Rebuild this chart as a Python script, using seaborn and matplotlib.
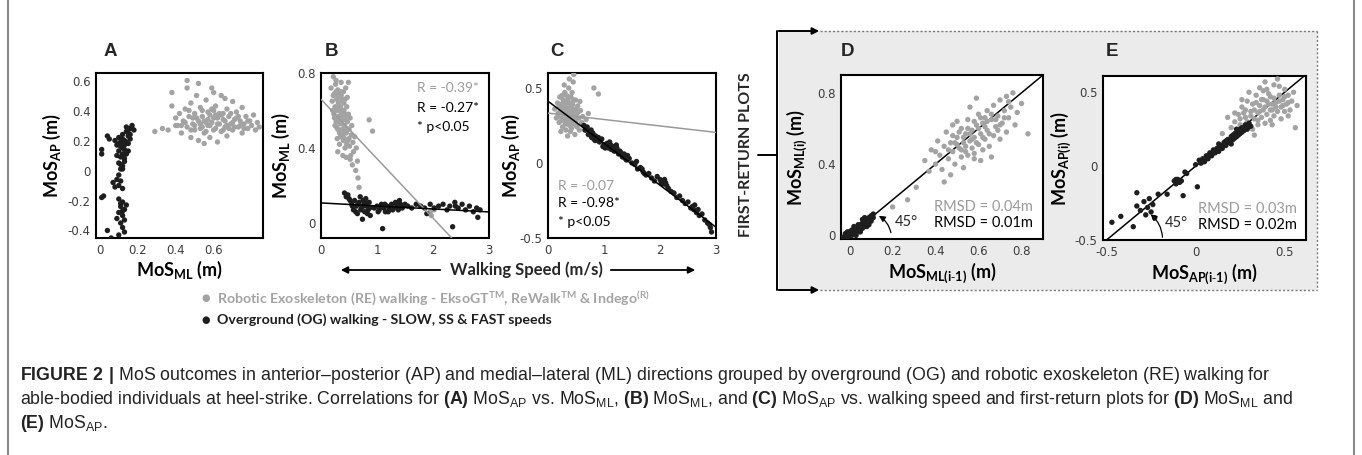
import numpy as np
import pandas as pd
import matplotlib
matplotlib.use('Agg')
import matplotlib.pyplot as plt
import seaborn as sns
from matplotlib import font_manager
from matplotlib.patches import Rectangle, FancyArrowPatch
from matplotlib.lines import Line2D

# ---------------- data ----------------
# A: MoS_ML (x) vs MoS_AP (y)
a_re_x = [0.29, 0.33, 0.36, 0.38, 0.38, 0.40, 0.41, 0.42, 0.43, 0.44, 0.45, 0.46, 0.46, 0.46, 0.47, 0.48, 0.48, 0.49, 0.50, 0.50,
          0.51, 0.52, 0.52, 0.53, 0.54, 0.54, 0.55, 0.56, 0.56, 0.57, 0.58, 0.58, 0.59, 0.60, 0.60, 0.61, 0.62, 0.62, 0.63, 0.64,
          0.64, 0.65, 0.66, 0.67, 0.67, 0.68, 0.69, 0.70, 0.70, 0.71, 0.72, 0.73, 0.74, 0.75, 0.75, 0.76, 0.77, 0.78, 0.79, 0.80,
          0.81, 0.82, 0.83, 0.84, 0.52, 0.60, 0.66, 0.55, 0.47, 0.57, 0.53, 0.61, 0.59, 0.65, 0.49,
          0.50, 0.51, 0.53, 0.54, 0.55, 0.56, 0.57, 0.58, 0.59, 0.60, 0.61, 0.62, 0.63, 0.64, 0.65, 0.66, 0.67, 0.68, 0.69, 0.70,
          0.71, 0.72, 0.73, 0.74, 0.76, 0.78, 0.45, 0.48, 0.43, 0.40]
a_re_y = [0.26, 0.28, 0.27, 0.52, 0.43, 0.35, 0.30, 0.38, 0.25, 0.33, 0.41, 0.60, 0.55, 0.29, 0.36, 0.22, 0.45, 0.31, 0.38, 0.27,
          0.50, 0.33, 0.20, 0.42, 0.29, 0.36, 0.25, 0.47, 0.32, 0.39, 0.22, 0.30, 0.55, 0.35, 0.27, 0.43, 0.31, 0.19, 0.38, 0.26,
          0.50, 0.34, 0.29, 0.41, 0.23, 0.36, 0.31, 0.46, 0.27, 0.34, 0.39, 0.29, 0.33, 0.25, 0.42, 0.31, 0.36, 0.28, 0.33, 0.30,
          0.37, 0.27, 0.32, 0.29, 0.58, 0.52, 0.48, 0.18, 0.40, 0.34, 0.31, 0.37, 0.41, 0.38, 0.35,
          0.30, 0.35, 0.28, 0.40, 0.33, 0.26, 0.30, 0.37, 0.32, 0.40, 0.28, 0.35, 0.31, 0.37, 0.27, 0.33, 0.30, 0.28, 0.38, 0.32,
          0.29, 0.35, 0.36, 0.30, 0.28, 0.33, 0.32, 0.27, 0.30, 0.30]
a_og_x = [0.01, 0.01, 0.04, 0.05, 0.02, 0.01, 0.04, 0.06,
          0.08, 0.09, 0.10, 0.10, 0.11, 0.11, 0.12, 0.12, 0.13, 0.13, 0.14, 0.14, 0.15, 0.15, 0.16, 0.16, 0.17, 0.18,
          0.12, 0.10, 0.11, 0.09, 0.14, 0.13,
          0.07, 0.09, 0.10, 0.11, 0.12, 0.10, 0.08,
          0.10, 0.12, 0.11, 0.13, 0.10, 0.12, 0.14, 0.09, 0.11, 0.12, 0.13, 0.10, 0.13,
          0.11, 0.12, 0.13, 0.14, 0.15, 0.16, 0.17, 0.12, 0.13, 0.11, 0.10, 0.12, 0.11, 0.12, 0.15]
a_og_y = [0.14, 0.11, 0.23, 0.21, -0.17, -0.18, -0.40, -0.45,
          0.20, 0.17, 0.22, 0.13, 0.19, 0.09, 0.24, 0.15, 0.06, 0.20, 0.11, 0.26, 0.18, 0.23, 0.28, 0.21, 0.30, 0.27,
          0.03, 0.05, 0.01, 0.10, 0.29, 0.17,
          -0.08, -0.06, -0.10, -0.07, -0.12, -0.03, -0.11,
          -0.19, -0.21, -0.24, -0.26, -0.28, -0.30, -0.23, -0.32, -0.35, -0.38, -0.41, -0.43, -0.33,
          0.16, 0.21, 0.14, 0.19, 0.25, 0.24, 0.28, 0.11, 0.08, 0.04, 0.18, 0.01, -0.22, -0.27, 0.13]

# B: walking speed (x) vs MoS_ML (y)
b_re_x = [0.18, 0.20, 0.22, 0.23, 0.24, 0.25, 0.26, 0.27, 0.28, 0.29, 0.30, 0.30, 0.31, 0.32, 0.33, 0.34, 0.35, 0.35, 0.36, 0.37,
          0.38, 0.38, 0.39, 0.40, 0.40, 0.41, 0.42, 0.43, 0.43, 0.44, 0.45, 0.46, 0.47, 0.48, 0.49, 0.49, 0.50, 0.51, 0.52, 0.53,
          0.54, 0.55, 0.56, 0.57, 0.58, 0.60, 0.62, 0.63, 0.65, 0.68, 0.66, 0.86, 0.92, 0.30, 0.33, 0.45, 0.52, 0.29, 0.25, 0.21,
          0.36, 0.44, 0.47, 0.41, 0.39, 1.95, 1.97, 2.02,
          0.22, 0.24, 0.26, 0.27, 0.28, 0.30, 0.31, 0.32, 0.33, 0.34, 0.35, 0.36, 0.37, 0.38, 0.39, 0.40, 0.41, 0.42, 0.43, 0.44,
          0.45, 0.46, 0.48, 0.50, 0.27]
b_re_y = [0.72, 0.65, 0.78, 0.58, 0.69, 0.62, 0.74, 0.54, 0.66, 0.60, 0.71, 0.50, 0.64, 0.57, 0.68, 0.53, 0.62, 0.46, 0.75, 0.58,
          0.65, 0.50, 0.55, 0.70, 0.44, 0.60, 0.52, 0.66, 0.40, 0.57, 0.48, 0.62, 0.54, 0.44, 0.75, 0.58, 0.50, 0.41, 0.56, 0.36,
          0.47, 0.52, 0.31, 0.43, 0.38, 0.46, 0.28, 0.40, 0.33, 0.19, 0.24, 0.55, 0.49, 0.38, 0.42, 0.35, 0.34, 0.45, 0.52, 0.60,
          0.68, 0.72, 0.67, 0.48, 0.36, 0.06, 0.04, 0.07,
          0.68, 0.56, 0.60, 0.70, 0.51, 0.55, 0.68, 0.62, 0.48, 0.60, 0.70, 0.53, 0.66, 0.60, 0.47, 0.56, 0.64, 0.45, 0.58, 0.50,
          0.55, 0.42, 0.50, 0.45, 0.76]
b_og_x = [0.42, 0.45, 0.48, 0.50, 0.55, 0.58, 0.60, 0.63, 0.65, 0.68, 0.70, 0.72, 0.74, 0.75, 0.77, 0.78, 0.80, 0.82, 0.84, 0.86,
          0.88, 0.95, 1.00, 1.04, 1.08, 1.10, 1.12, 1.15, 1.18, 1.22, 1.26, 1.30, 1.33, 1.36, 1.40, 1.45, 1.50, 1.55, 1.62, 1.70,
          1.78, 1.85, 1.89, 1.95, 2.02, 2.10, 2.18, 2.25, 2.30, 2.35, 2.39, 2.45, 2.52, 2.58, 2.65, 2.72, 2.78, 2.80, 2.84,
          0.52, 0.56, 0.62, 0.66, 0.71, 0.76, 0.79, 0.83, 0.87, 1.02, 1.06, 1.14, 1.20, 1.24, 1.28, 1.35, 1.38, 1.42, 1.48, 2.40]
b_og_y = [0.16, 0.14, 0.15, 0.13, 0.10, 0.07, 0.12, 0.09, 0.05, 0.11, 0.14, 0.08, 0.02, 0.12, 0.10, 0.06, 0.13, 0.09, 0.07, 0.11,
          0.04, 0.08, 0.09, 0.07, 0.10, -0.03, 0.08, 0.06, 0.09, 0.07, 0.10, 0.08, 0.11, 0.09, 0.12, 0.08, 0.10, 0.09, 0.08, 0.10,
          0.09, 0.08, 0.05, 0.10, 0.08, 0.09, 0.10, 0.07, 0.09, -0.02, 0.11, 0.08, 0.10, 0.07, 0.09, 0.06, 0.08, 0.03, 0.07,
          0.12, 0.09, 0.06, 0.10, 0.07, 0.09, 0.11, 0.05, 0.08, 0.06, 0.09, 0.10, 0.06, 0.09, 0.07, 0.10, 0.07, 0.10, 0.09, 0.09]

# C: walking speed (x) vs MoS_AP (y)
c_re_x = [0.12, 0.15, 0.17, 0.18, 0.20, 0.21, 0.22, 0.24, 0.25, 0.26, 0.27, 0.28, 0.29, 0.30, 0.31, 0.32, 0.33, 0.34, 0.35, 0.36,
          0.37, 0.38, 0.39, 0.40, 0.41, 0.42, 0.43, 0.44, 0.45, 0.46, 0.47, 0.48, 0.49, 0.50, 0.51, 0.52, 0.53, 0.55, 0.56, 0.58,
          0.60, 0.62, 0.65, 0.68, 0.72, 0.82, 0.90, 0.46, 0.38, 0.29, 0.23, 0.35, 0.43, 0.57, 0.20, 0.41, 0.33, 0.27, 0.50, 0.44,
          0.18, 0.22, 0.24, 0.26, 0.28, 0.30, 0.32, 0.33, 0.35, 0.36, 0.38, 0.39, 0.40, 0.42, 0.43, 0.45, 0.46, 0.48, 0.50, 0.52,
          0.54, 0.31, 0.37, 0.25, 0.42]
c_re_y = [0.36, 0.30, 0.40, 0.33, 0.27, 0.44, 0.35, 0.30, 0.38, 0.24, 0.42, 0.33, 0.28, 0.47, 0.36, 0.22, 0.31, 0.40, 0.26, 0.34,
          0.50, 0.29, 0.37, 0.21, 0.44, 0.32, 0.26, 0.39, 0.54, 0.30, 0.35, 0.19, 0.42, 0.28, 0.33, 0.24, 0.38, 0.30, 0.22, 0.35,
          0.27, 0.31, 0.25, 0.29, 0.33, 0.50, 0.46, 0.59, 0.56, 0.52, 0.21, 0.18, 0.47, 0.41, 0.38, 0.27, 0.45, 0.37, 0.36, 0.33,
          0.31, 0.39, 0.34, 0.29, 0.40, 0.33, 0.37, 0.27, 0.42, 0.30, 0.35, 0.25, 0.40, 0.37, 0.31, 0.28, 0.42, 0.33, 0.25, 0.30,
          0.34, 0.26, 0.44, 0.45, 0.23]
c_og_x = [0.64, 0.68, 0.70, 0.72, 0.75, 0.78, 0.80, 0.82, 0.85, 0.88, 0.92, 0.96, 1.00, 1.05, 1.08, 1.10, 1.13, 1.16, 1.20, 1.23,
          1.26, 1.30, 1.33, 1.36, 1.40, 1.45, 1.50, 1.55, 1.60, 1.65, 1.70, 1.75, 1.80, 1.85, 1.90, 1.95, 2.00, 2.05, 2.10, 2.15,
          2.20, 2.25, 2.30, 2.35, 2.40, 2.45, 2.50, 2.55, 2.60, 2.65, 2.70, 2.75, 2.80, 2.85, 2.90, 2.92, 1.22, 0.98, 1.58, 2.62,
          0.66, 0.74, 0.77, 0.84, 0.90, 1.02, 1.12, 1.18, 1.28, 1.32, 1.38, 1.42, 1.68, 1.72, 2.02, 2.08, 2.12, 2.58, 2.68, 2.88]
c_og_y = [0.25, 0.22, 0.24, 0.19, 0.21, 0.17, 0.20, 0.16, 0.18, 0.15, 0.14, 0.16, 0.12, 0.13, 0.10, 0.14, 0.09, 0.11, 0.08, 0.10,
          0.06, 0.07, 0.04, 0.06, 0.02, 0.03, 0.00, -0.01, -0.04, -0.03, -0.06, -0.08, -0.07, -0.10, -0.12, -0.09, -0.11, -0.14, -0.13, -0.17,
          -0.19, -0.20, -0.23, -0.22, -0.25, -0.27, -0.26, -0.30, -0.31, -0.33, -0.35, -0.34, -0.38, -0.40, -0.43, -0.46, 0.12, 0.11, 0.01, -0.28,
          0.22, 0.19, 0.22, 0.15, 0.17, 0.10, 0.12, 0.08, 0.08, 0.05, 0.03, 0.05, -0.04, -0.07, -0.13, -0.11, -0.15, -0.29, -0.31, -0.41]

# D: first-return MoS_ML(i-1) (x) vs MoS_ML(i) (y)
d_re_x = [0.20, 0.27, 0.31, 0.35, 0.37, 0.38, 0.40, 0.41, 0.42, 0.43, 0.44, 0.45, 0.46, 0.47, 0.48, 0.48, 0.49, 0.50, 0.51, 0.52,
          0.52, 0.53, 0.54, 0.54, 0.55, 0.56, 0.57, 0.57, 0.58, 0.58, 0.59, 0.60, 0.60, 0.61, 0.62, 0.62, 0.63, 0.64, 0.64, 0.65,
          0.66, 0.67, 0.67, 0.68, 0.69, 0.70, 0.70, 0.71, 0.72, 0.73, 0.74, 0.75, 0.76, 0.77, 0.78, 0.80, 0.83, 0.56, 0.50, 0.44,
          0.47, 0.61, 0.66, 0.53, 0.59, 0.73, 0.40, 0.55, 0.63, 0.69,
          0.46, 0.48, 0.50, 0.51, 0.53, 0.54, 0.55, 0.56, 0.57, 0.58, 0.59, 0.60, 0.61, 0.62, 0.63, 0.64, 0.65, 0.66, 0.68, 0.70,
          0.72, 0.74, 0.52, 0.58, 0.49]
d_re_y = [0.16, 0.20, 0.27, 0.42, 0.36, 0.48, 0.40, 0.53, 0.45, 0.37, 0.50, 0.58, 0.43, 0.52, 0.47, 0.62, 0.40, 0.55, 0.49, 0.60,
          0.44, 0.52, 0.57, 0.47, 0.65, 0.53, 0.49, 0.59, 0.55, 0.43, 0.62, 0.51, 0.68, 0.57, 0.48, 0.63, 0.54, 0.70, 0.59, 0.50,
          0.65, 0.56, 0.73, 0.61, 0.67, 0.54, 0.76, 0.63, 0.70, 0.58, 0.66, 0.72, 0.80, 0.62, 0.69, 0.74, 0.57, 0.72, 0.64, 0.30,
          0.34, 0.42, 0.44, 0.38, 0.77, 0.78, 0.47, 0.45, 0.66, 0.59,
          0.48, 0.56, 0.51, 0.58, 0.55, 0.50, 0.60, 0.57, 0.54, 0.64, 0.52, 0.60, 0.66, 0.55, 0.61, 0.64, 0.57, 0.68, 0.65, 0.62,
          0.66, 0.75, 0.48, 0.46, 0.52]
d_og_x = [-0.03, -0.02, -0.01, 0.00, 0.00, 0.01, 0.01, 0.02, 0.02, 0.03, 0.03, 0.04, 0.04, 0.05, 0.05, 0.06, 0.06, 0.07,
          0.07, 0.08, 0.08, 0.09, 0.09, 0.10, 0.10, 0.11, 0.11, 0.02, 0.05, 0.07, 0.09, -0.01, 0.03, 0.06, 0.08,
          0.00, 0.01, 0.02, 0.03, 0.04, 0.05, 0.06, 0.07, 0.08, 0.09, 0.10, 0.04, 0.06, 0.01, 0.03]
d_og_y = [-0.01, 0.01, -0.01, 0.01, 0.02, 0.00, 0.03, 0.01, 0.03, 0.02, 0.04, 0.03, 0.05, 0.04, 0.06, 0.05, 0.07, 0.06,
          0.08, 0.07, 0.09, 0.08, 0.10, 0.09, 0.11, 0.10, 0.12, 0.05, 0.02, 0.10, 0.06, 0.02, 0.00, 0.09, 0.05,
          0.00, 0.02, 0.02, 0.04, 0.02, 0.05, 0.06, 0.05, 0.08, 0.09, 0.08, 0.06, 0.04, 0.01, 0.03]

# E: first-return MoS_AP(i-1) (x) vs MoS_AP(i) (y)
e_re_x = [0.15, 0.18, 0.20, 0.22, 0.23, 0.24, 0.25, 0.26, 0.27, 0.28, 0.29, 0.30, 0.31, 0.32, 0.32, 0.33, 0.34, 0.35, 0.35, 0.36,
          0.37, 0.38, 0.38, 0.39, 0.40, 0.40, 0.41, 0.42, 0.42, 0.43, 0.44, 0.44, 0.45, 0.46, 0.46, 0.47, 0.48, 0.48, 0.49, 0.50,
          0.50, 0.51, 0.52, 0.53, 0.54, 0.55, 0.56, 0.57, 0.30, 0.26, 0.36, 0.22, 0.33, 0.43, 0.39, 0.28, 0.20, 0.47, 0.52, 0.41,
          0.25, 0.27, 0.29, 0.31, 0.33, 0.34, 0.36, 0.37, 0.39, 0.40, 0.42, 0.44, 0.45, 0.47, 0.49, 0.50, 0.52, 0.35, 0.38, 0.43]
e_re_y = [0.22, 0.33, 0.26, 0.30, 0.20, 0.35, 0.28, 0.40, 0.24, 0.33, 0.44, 0.29, 0.37, 0.25, 0.42, 0.32, 0.48, 0.36, 0.28, 0.41,
          0.33, 0.45, 0.38, 0.29, 0.52, 0.35, 0.42, 0.31, 0.47, 0.38, 0.55, 0.34, 0.43, 0.59, 0.37, 0.48, 0.40, 0.32, 0.45, 0.52,
          0.37, 0.42, 0.48, 0.38, 0.44, 0.50, 0.26, 0.41, 0.50, 0.45, 0.53, 0.36, 0.21, 0.28, 0.57, 0.38, 0.18, 0.54, 0.34, 0.49,
          0.32, 0.36, 0.30, 0.34, 0.38, 0.43, 0.37, 0.45, 0.40, 0.44, 0.38, 0.46, 0.40, 0.44, 0.41, 0.47, 0.43, 0.31, 0.51, 0.42]
e_og_x = [-0.47, -0.42, -0.35, -0.33, -0.33, -0.31, -0.29, -0.28, -0.27, -0.26, -0.25, -0.24, -0.23, -0.21, -0.16, -0.12, -0.11,
          -0.10, -0.09, -0.08, -0.07, -0.05, 0.01, 0.00, 0.03, 0.04, 0.05, 0.06, 0.07, 0.08, 0.09, 0.10, 0.11, 0.12, 0.13, 0.14,
          0.15, 0.16, 0.17, 0.18, 0.19, 0.20, 0.21, 0.22, 0.23, 0.24, 0.25, 0.26, 0.27, 0.28, 0.29, 0.30, 0.31, 0.20, 0.13, 0.23,
          0.02, 0.04, 0.06, 0.08, 0.10, 0.12, 0.14, 0.16, 0.18, 0.20, 0.22, 0.24, 0.26, 0.28, 0.30, 0.17, 0.21, 0.25, -0.06, -0.11]
e_og_y = [-0.38, -0.34, -0.41, -0.18, -0.27, -0.30, -0.24, -0.33, -0.28, -0.22, -0.31, -0.26, -0.35, -0.19, -0.19, -0.10, -0.12,
          -0.09, -0.11, -0.10, -0.20, -0.05, -0.14, 0.01, 0.02, 0.05, 0.03, 0.07, 0.05, 0.09, 0.07, 0.11, 0.09, 0.12, 0.10, 0.14,
          0.12, 0.16, 0.14, 0.18, 0.16, 0.20, 0.18, 0.22, 0.20, 0.24, 0.22, 0.26, 0.24, 0.28, 0.25, 0.29, 0.27, 0.15, 0.15, 0.25,
          0.04, 0.03, 0.05, 0.08, 0.09, 0.11, 0.12, 0.14, 0.16, 0.18, 0.19, 0.21, 0.23, 0.25, 0.27, 0.17, 0.21, 0.25, -0.04, -0.09]

# regression lines (intercept, slope)
b_fit_re = (0.66, -0.317)
b_fit_og = (0.107, -0.016)
c_fit_re = (0.333, -0.043)
c_fit_og = (0.412, -0.28)

b_stats = ['R = -0.39*', 'R = -0.27*', '* p<0.05']
c_stats = ['R = -0.07', 'R = -0.98*', '* p<0.05']
d_rmsd = ['RMSD = 0.04m', 'RMSD = 0.01m']
e_rmsd = ['RMSD = 0.03m', 'RMSD = 0.02m']

GRAY = '#a3a3a3'
BLACK = '#1e1e1e'
PAL = {'RE': GRAY, 'OG': BLACK}

W, H = 1362, 455
sns.set_theme(style='white')
plt.rcParams['font.family'] = ['Lato', 'DejaVu Sans']
plt.rcParams['mathtext.default'] = 'regular'

names = {f.name for f in font_manager.fontManager.ttflist}
CAP_FONT = 'Liberation Sans Narrow' if 'Liberation Sans Narrow' in names else 'Liberation Sans'
CAP_SIZE = 14 if CAP_FONT.endswith('Narrow') else 12.8
plt.rcParams['mathtext.fontset'] = 'custom'
plt.rcParams['mathtext.rm'] = CAP_FONT
plt.rcParams['mathtext.bf'] = CAP_FONT + ':bold'

fig = plt.figure(figsize=(W / 100, H / 100), dpi=100)
fig.patch.set_facecolor('white')


def fx(px):
    return px / W


def fy(py):
    return 1 - py / H


def make_axes(left, top, right, bottom):
    return fig.add_axes([fx(left), fy(bottom), (right - left) / W, (bottom - top) / H])


def panel(ax, rx, ry, ox, oy, xlim, ylim, xt, xtl, yt, ytl):
    df = pd.DataFrame({'x': list(rx) + list(ox), 'y': list(ry) + list(oy),
                       'group': ['RE'] * len(rx) + ['OG'] * len(ox)})
    sns.scatterplot(data=df, x='x', y='y', hue='group', palette=PAL, s=15,
                    linewidth=0, legend=False, ax=ax, zorder=3)
    ax.set_xlim(xlim)
    ax.set_ylim(ylim)
    ax.set_xticks(xt)
    ax.set_xticklabels(xtl)
    ax.set_yticks(yt)
    ax.set_yticklabels(ytl)
    ax.set_xlabel('')
    ax.set_ylabel('')
    ax.set_facecolor('white')
    for sp in ax.spines.values():
        sp.set_visible(True)
        sp.set_color('black')
        sp.set_linewidth(1.5)
    ax.tick_params(direction='in', length=3, width=0.6, color='#c8c8c8',
                   labelsize=8.5, labelcolor='#3c3c3c', pad=4)
    for lab in ax.get_xticklabels() + ax.get_yticklabels():
        lab.set_family('DejaVu Sans')


LAB = dict(fontsize=13, fontweight='bold', color='black')

# first-return background box (behind the axes)
bg = Rectangle((fx(779), fy(290)), (1317 - 779) / W, (290 - 31) / H, transform=fig.transFigure,
               facecolor='#ebebeb', edgecolor='none', zorder=-5)
fig.add_artist(bg)
for (x0, y0, x1, y1) in [(820, 31, 1317, 31), (1317, 31, 1317, 290), (820, 290, 1317, 290)]:
    fig.add_artist(Line2D([fx(x0), fx(x1)], [fy(y0), fy(y1)], transform=fig.transFigure,
                          color='#777777', lw=1, ls=(0, (1.5, 1.5)), zorder=-4))
fig.add_artist(Line2D([fx(777), fx(777)], [fy(31), fy(290)], transform=fig.transFigure, color='black', lw=1.4))
fig.add_artist(Line2D([fx(758), fx(777)], [fy(155), fy(155)], transform=fig.transFigure, color='black', lw=1.4))
for yy in (31, 290):
    fig.add_artist(FancyArrowPatch((fx(776), fy(yy)), (fx(822), fy(yy)), transform=fig.transFigure,
                                   arrowstyle='-|>', mutation_scale=10, color='black', lw=1.4))
fig.text(fx(746), fy(155), 'FIRST-RETURN PLOTS', rotation=90, ha='center', va='center',
         fontsize=11.5, fontweight='bold')

# outer frame
for xx in (8, 1354):
    fig.add_artist(Line2D([fx(xx), fx(xx)], [0, 1], transform=fig.transFigure, color='#888888', lw=1.5))

# ---- A ----
axA = make_axes(96, 73, 263, 238)
panel(axA, a_re_x, a_re_y, a_og_x, a_og_y, (-0.02, 0.86), (-0.45, 0.65),
      [0, 0.2, 0.4, 0.6], ['0', '0.2', '0.4', '0.6'],
      [-0.4, -0.2, 0, 0.2, 0.4, 0.6], ['-0.4', '-0.2', '0', '0.2', '0.4', '0.6'])
axA.set_ylabel(r'MoS$_{AP}$ (m)', **LAB)
axA.yaxis.set_label_coords(-0.2, 0.5)
axA.set_xlabel(r'MoS$_{ML}$ (m)', **LAB)
axA.xaxis.set_label_coords(0.5, -0.125)

# ---- B ----
axB = make_axes(321, 73, 489, 238)
panel(axB, b_re_x, b_re_y, b_og_x, b_og_y, (0, 3), (-0.08, 0.8),
      [0, 1, 2, 3], ['0', '1', '2', '3'], [0, 0.4, 0.8], ['0', '0.4', '0.8'])
axB.axline((0, b_fit_re[0]), slope=b_fit_re[1], color='#9a9a9a', lw=1.1, zorder=4)
axB.axline((0, b_fit_og[0]), slope=b_fit_og[1], color='black', lw=1.1, zorder=4)
axB.set_ylabel(r'MoS$_{ML}$ (m)', **LAB)
axB.yaxis.set_label_coords(-0.17, 0.5)
for txt, yy, col in zip(b_stats, [0.91, 0.79, 0.67], ['#9a9a9a', 'black', 'black']):
    axB.text(0.57, yy, txt, transform=axB.transAxes, ha='left', va='center', fontsize=10, color=col)

# ---- C ----
axC = make_axes(548, 73, 716, 238)
panel(axC, c_re_x, c_re_y, c_og_x, c_og_y, (0, 3), (-0.5, 0.6),
      [0, 1, 2, 3], ['0', '1', '2', '3'], [-0.5, 0, 0.5], ['-0.5', '0', '0.5'])
axC.axline((0, c_fit_re[0]), slope=c_fit_re[1], color='#9a9a9a', lw=1.1, zorder=4)
axC.axline((0, c_fit_og[0]), slope=c_fit_og[1], color='black', lw=1.1, zorder=4)
axC.set_ylabel(r'MoS$_{AP}$ (m)', **LAB)
axC.yaxis.set_label_coords(-0.155, 0.5)
for txt, yy, col in zip(c_stats, [0.315, 0.21, 0.10], ['#9a9a9a', 'black', 'black']):
    axC.text(0.06, yy, txt, transform=axC.transAxes, ha='left', va='center', fontsize=10, color=col)

# ---- D ----
axD = make_axes(841, 75, 1043, 239)
panel(axD, d_re_x, d_re_y, d_og_x, d_og_y, (-0.04, 0.9), (-0.02, 0.9),
      [0, 0.2, 0.4, 0.6, 0.8], ['0', '0.2', '0.4', '0.6', '0.8'], [0, 0.4, 0.8], ['0', '0.4', '0.8'])
axD.axline((0, 0), slope=1, color='black', lw=1.1, zorder=2)
axD.set_ylabel(r'MoS$_{ML(i)}$ (m)', **LAB)
axD.yaxis.set_label_coords(-0.16, 0.5)
axD.set_xlabel(r'MoS$_{ML(i\text{-}1)}$ (m)', **LAB)
axD.xaxis.set_label_coords(0.5, -0.134)
axD.add_patch(FancyArrowPatch((0.195, 0.0), (0.125, 0.118), connectionstyle='arc3,rad=0.25',
                              arrowstyle='-|>', mutation_scale=9, color='black', lw=0.9, zorder=5))
axD.text(0.21, 0.078, '45°', fontsize=10.5, ha='left', va='center')
for txt, yy, col in zip(d_rmsd, [0.195, 0.098], ['#9a9a9a', 'black']):
    axD.text(0.95, yy, txt, transform=axD.transAxes, ha='right', va='center', fontsize=10.5, color=col)

# ---- E ----
axE = make_axes(1103, 76, 1306, 240)
panel(axE, e_re_x, e_re_y, e_og_x, e_og_y, (-0.52, 0.62), (-0.5, 0.61),
      [-0.5, 0, 0.5], ['-0.5', '0', '0.5'], [-0.5, 0, 0.5], ['-0.5', '0', '0.5'])
axE.axline((0, 0), slope=1, color='black', lw=1.1, zorder=2)
axE.set_ylabel(r'MoS$_{AP(i)}$ (m)', **LAB)
axE.yaxis.set_label_coords(-0.15, 0.5)
axE.set_xlabel(r'MoS$_{AP(i\text{-}1)}$ (m)', **LAB)
axE.xaxis.set_label_coords(0.5, -0.134)
axE.add_patch(FancyArrowPatch((-0.185, -0.5), (-0.265, -0.315), connectionstyle='arc3,rad=0.25',
                              arrowstyle='-|>', mutation_scale=9, color='black', lw=0.9, zorder=5))
axE.text(-0.175, -0.385, '45°', fontsize=10.5, ha='left', va='center')
for txt, yy, col in zip(e_rmsd, [0.19, 0.09], ['#9a9a9a', 'black']):
    axE.text(0.955, yy, txt, transform=axE.transAxes, ha='right', va='center', fontsize=10.5, color=col)

# panel letters
for lab, px in zip('ABCDE', [110, 332, 557, 848, 1112]):
    fig.text(fx(px), fy(52), lab, ha='center', va='center', fontsize=13.5, fontweight='bold',
             family='Liberation Sans')

# walking speed axis label with arrows
fig.text(fx(526), fy(270), 'Walking Speed (m/s)', ha='center', va='center', fontsize=12, fontweight='bold')
fig.add_artist(FancyArrowPatch((fx(443), fy(270)), (fx(338), fy(270)), transform=fig.transFigure,
                               arrowstyle='-|>', mutation_scale=10, color='black', lw=1.3))
fig.add_artist(FancyArrowPatch((fx(608), fy(270)), (fx(698), fy(270)), transform=fig.transFigure,
                               arrowstyle='-|>', mutation_scale=10, color='black', lw=1.3))

# legend
fig.text(fx(206), fy(298), '\u25CF', ha='center', va='center', fontsize=7, color=GRAY, family='DejaVu Sans')
fig.text(fx(217), fy(298), r'Robotic Exoskeleton (RE) walking - EksoGT$^{TM}$, ReWalk$^{TM}$ & Indego$^{(R)}$',
         ha='left', va='center', fontsize=10.2, fontweight='bold', color=GRAY)
fig.text(fx(206), fy(320), '\u25CF', ha='center', va='center', fontsize=7, color=BLACK, family='DejaVu Sans')
fig.text(fx(217), fy(320), 'Overground (OG) walking - SLOW, SS & FAST speeds',
         ha='left', va='center', fontsize=10.2, fontweight='bold', color=BLACK)

# caption
cap = [r'$\mathbf{FIGURE\ 2\ |}$ MoS outcomes in anterior–posterior (AP) and medial–lateral (ML) directions grouped by overground (OG) and robotic exoskeleton (RE) walking for',
       r'able-bodied individuals at heel-strike. Correlations for $\mathbf{(A)}$ MoS$_{AP}$ vs. MoS$_{ML}$, $\mathbf{(B)}$ MoS$_{ML}$, and $\mathbf{(C)}$ MoS$_{AP}$ vs. walking speed and first-return plots for $\mathbf{(D)}$ MoS$_{ML}$ and',
       r'$\mathbf{(E)}$ MoS$_{AP}$.']
for line, yy in zip(cap, [376, 400, 424]):
    fig.text(fx(20), fy(yy), line, ha='left', va='center', fontsize=CAP_SIZE, family=CAP_FONT, color='#222222')

fig.savefig('out.png', dpi=100, facecolor='white')
